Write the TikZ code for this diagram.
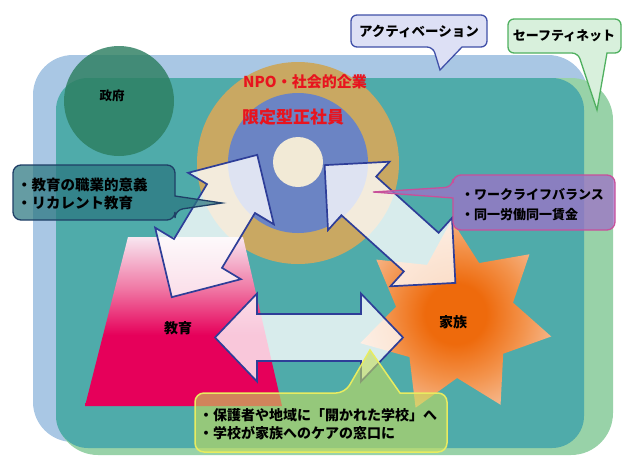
\documentclass[tikz,border=0pt]{standalone}
\usepackage{fontspec}
\newfontfamily\jp{Noto Sans CJK JP}
\definecolor{bluebg}{HTML}{A9C7E4}
\definecolor{greenbg}{HTML}{98D2A8}
\definecolor{tealbg}{HTML}{4FABAA}
\definecolor{govgreen}{HTML}{2C7E60}
\definecolor{tanring}{HTML}{C9A862}
\definecolor{bluering}{HTML}{6B84C4}
\definecolor{creamc}{HTML}{F2EAD6}
\definecolor{arrowblue}{HTML}{2E3E98}
\definecolor{edumag}{HTML}{E6005A}
\definecolor{edupink}{HTML}{F07AA6}
\definecolor{eduwhite}{HTML}{F8E6F0}
\definecolor{famdeep}{HTML}{EE6A0C}
\definecolor{fammid}{HTML}{F3934C}
\definecolor{fampale}{HTML}{F7C6A6}
\definecolor{tealbox}{HTML}{2A7680}
\definecolor{tealborder}{HTML}{1F3F66}
\definecolor{purplebox}{HTML}{9E71C8}
\definecolor{purpleborder}{HTML}{C8509A}
\definecolor{greenbox}{HTML}{C4DC5C}
\definecolor{yellowborder}{HTML}{E8EC60}
\definecolor{actbox}{HTML}{DDE0F5}
\definecolor{actborder}{HTML}{4050A8}
\definecolor{safebox}{HTML}{D8F0DC}
\definecolor{safeborder}{HTML}{50B060}
\definecolor{redtext}{HTML}{E8141E}
\pgfdeclareverticalshading{edugrad}{100bp}{color(0bp)=(edumag); color(46bp)=(edumag); color(60bp)=(edupink); color(75bp)=(eduwhite); color(100bp)=(eduwhite)}
\pgfdeclareradialshading{famgrad}{\pgfpoint{0bp}{0bp}}{color(0bp)=(famdeep); color(8bp)=(famdeep); color(18bp)=(fammid); color(30bp)=(fampale); color(50bp)=(fampale)}
\begin{document}
\begin{tikzpicture}[x=1pt,y=-1pt,
  arrowbox/.style={draw=arrowblue, line width=1.7pt, fill=white, fill opacity=0.78, line join=miter},
  jptext/.style={text=black, inner sep=0pt},
  calloutline/.style={line width=1.3pt}]
\useasboundingbox (0,0) rectangle (623,456);

% background areas
\fill[bluebg, rounded corners=40pt] (33,55) rectangle (588,442);
\fill[greenbg, rounded corners=42pt] (56,78) rectangle (613,455);
\fill[tealbg, rounded corners=32pt] (56,78) rectangle (584,448);

% government
\fill[govgreen, fill opacity=0.82] (119,101) circle (55);

% rings
\fill[tanring] (298,163) circle (101);
\fill[bluering] (298,163) circle (70);
\fill[creamc] (298,162) circle (25);

% education trapezoid
\shade[shading=edugrad] (128,237) -- (243,237) -- (282,406) -- (85,406) -- cycle;

% family star
\shade[shading=famgrad]
  plot[samples at={0,...,13}, variable=\k]
  ({455+(mod(\k,2)==0 ? 98 : 60)*cos(92-\k*180/7)}, {318-(mod(\k,2)==0 ? 98 : 60)*sin(92-\k*180/7)}) -- cycle;

% arrows
\begin{scope}[shift={(214.5,226)}, rotate=59]
  \path[arrowbox] (-83,0) -- (-32,50) -- (-32,28) -- (32,28) -- (32,50) -- (83,0) -- (32,-50) -- (32,-28) -- (-32,-28) -- (-32,-50) -- cycle;
\end{scope}
\begin{scope}[shift={(390,224)}, rotate=-42]
  \path[arrowbox] (-88,0) -- (-42,46) -- (-42,26) -- (42,26) -- (42,46) -- (88,0) -- (42,-46) -- (42,-26) -- (-42,-26) -- (-42,-46) -- cycle;
\end{scope}
\begin{scope}[shift={(309,337.5)}]
  \path[arrowbox] (-94,0) -- (-52,44) -- (-52,23.5) -- (52,23.5) -- (52,44) -- (94,0) -- (52,-44) -- (52,-23.5) -- (-52,-23.5) -- (-52,-44) -- cycle;
\end{scope}

% callouts
\path[calloutline, draw=tealborder, fill=tealbox, fill opacity=0.72, rounded corners=8pt]
  (175,210) [sharp corners] -- (222,203) -- (175,196) [rounded corners=8pt] -- (175,165) -- (13,165) -- (13,220) -- (175,220) -- cycle;
\path[calloutline, draw=purpleborder, fill=purplebox, fill opacity=0.75, rounded corners=8pt]
  (453,187) [sharp corners] -- (373,192) -- (453,198) [rounded corners=8pt] -- (453,230) -- (615,230) -- (615,175) -- (453,175) -- cycle;
\path[line width=1.5pt, draw=yellowborder, fill=greenbox, fill opacity=0.6, rounded corners=9pt]
  (345,393) [sharp corners] -- (370,350) -- (400,393) [rounded corners=9pt] -- (447,393) -- (447,452) -- (195,452) -- (195,393) -- cycle;
\path[calloutline, draw=actborder, fill=actbox, rounded corners=6pt]
  (433,47) [sharp corners] -- (440,70) -- (462,47) [rounded corners=6pt] -- (487,47) -- (487,15) -- (351,15) -- (351,47) -- cycle;
\path[calloutline, draw=safeborder, fill=safebox, rounded corners=6pt]
  (578,53) [sharp corners] -- (597,110) -- (607,53) [rounded corners=6pt] -- (621,53) -- (621,19) -- (508,19) -- (508,53) -- cycle;

% texts
\node[jptext, font=\jp\bfseries\fontsize{12.5}{14}\selectfont] (gov) at (112,96) {政府};
\node[jptext, text=redtext, font=\jp\bfseries\fontsize{15}{18}\selectfont] (npo) at (305,82) {NPO・社会的企業};
\node[jptext, text=redtext, font=\jp\bfseries\fontsize{17}{20}\selectfont] (gentei) at (293,117) {限定型正社員};
\node[jptext, font=\jp\bfseries\fontsize{14}{16}\selectfont] (edu) at (178,328) {教育};
\node[jptext, font=\jp\bfseries\fontsize{14}{16}\selectfont] (fam) at (453,322) {家族};
\node[jptext, font=\jp\bfseries\fontsize{13.5}{16}\selectfont] (act) at (419,31) {アクティベーション};
\node[jptext, font=\jp\bfseries\fontsize{13}{16}\selectfont] (safe) at (564,36) {セーフティネット};
\node[jptext, anchor=west, align=left, font=\jp\bfseries\fontsize{14.5}{18}\selectfont] (edunote) at (17,194) {・教育の職業的意義\\・リカレント教育};
\node[jptext, anchor=west, align=left, font=\jp\bfseries\fontsize{13}{20}\selectfont] (wlb) at (461,205) {・ワークライフバランス\\・同一労働同一賃金};
\node[jptext, anchor=west, align=left, font=\jp\bfseries\fontsize{14}{18}\selectfont] (school) at (199,424) {・保護者や地域に「開かれた学校」へ\\・学校が家族へのケアの窓口に};
\end{tikzpicture}
\end{document}
